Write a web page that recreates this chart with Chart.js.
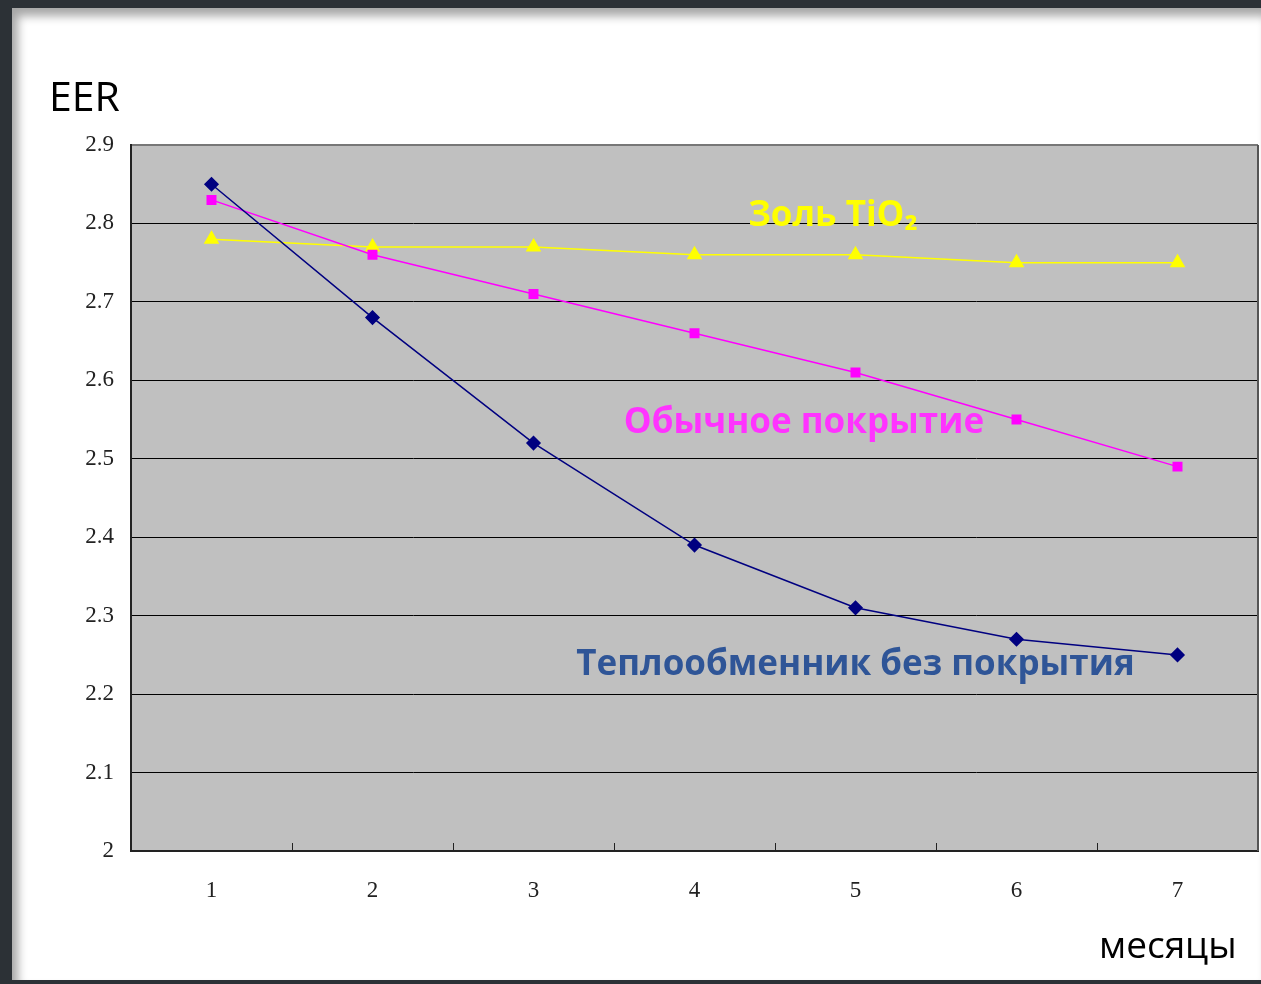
<!DOCTYPE html>
<html>
<head>
<meta charset="utf-8">
<script src="https://cdn.jsdelivr.net/npm/chart.js@4.4.1/dist/chart.umd.min.js"></script>
<style>
  html, body { margin: 0; padding: 0; width: 1261px; height: 984px; overflow: hidden; background: #2c3136; }
  #panel { position: absolute; left: 12px; top: 8px; width: 1249px; height: 972px; background: #ffffff;
           box-shadow: inset 6px 8px 10px rgba(0,0,0,0.35); }
  #wrap { position: absolute; left: 0; top: 0; width: 1261px; height: 984px; }
  .lbl { position: absolute; font-family: "Open Sans", sans-serif; color: #000; }
</style>
</head>
<body>
<div id="panel"></div>
<div id="wrap"><canvas id="c" width="1261" height="984"></canvas></div>
<div class="lbl" style="left:49px; top:67px; font-size:41px;">EER</div>
<div class="lbl" style="left:1099px; top:918px; font-size:37px;">месяцы</div>
<script>
const months = ["1", "2", "3", "4", "5", "6", "7"];
const uncoated = [2.85, 2.68, 2.52, 2.39, 2.31, 2.27, 2.25];
const ordinary = [2.83, 2.76, 2.71, 2.66, 2.61, 2.55, 2.49];
const tio2sol = [2.78, 2.77, 2.77, 2.76, 2.76, 2.75, 2.75];
const seriesNames = ["Теплообменник без покрытия", "Обычное покрытие", "Золь TiO₂"];
const yMin = 2.0, yMax = 2.9, yStep = 0.1;

// label anchors in data units: [category index, value]
const labelAnchors = [
  { text: "Теплообменник без покрытия", x: 4.0, y: 2.237, color: "#2f5597", size: 35 },
  { text: "Обычное покрытие", x: 3.68, y: 2.545, color: "#ff33ff", size: 35 },
  { text: "Золь TiO₂", x: 3.86, y: 2.81, color: "#ffff00", size: 35 }
];

const bgPlugin = {
  id: 'bg',
  beforeDraw(chart) {
    const { ctx, chartArea: a } = chart;
    ctx.save();
    ctx.fillStyle = '#c0c0c0';
    ctx.fillRect(a.left, a.top, a.right - a.left, a.bottom - a.top);
    ctx.restore();
  },
  afterDatasetsDraw(chart) {
    const { ctx, chartArea: a, scales } = chart;
    const xs = scales.x;
    ctx.save();
    ctx.strokeStyle = '#222';
    ctx.lineWidth = 1;
    for (let i = 0; i < months.length - 1; i++) {
      const px = Math.round((xs.getPixelForValue(i) + xs.getPixelForValue(i + 1)) / 2) + 0.5;
      ctx.beginPath(); ctx.moveTo(px, a.bottom); ctx.lineTo(px, a.bottom - 8); ctx.stroke();
    }
    ctx.strokeStyle = '#555';
    ctx.lineWidth = 2;
    ctx.beginPath(); ctx.moveTo(a.right, a.top); ctx.lineTo(a.right, a.bottom); ctx.stroke();
    ctx.textAlign = 'center';
    ctx.textBaseline = 'middle';
    labelAnchors.forEach(l => {
      ctx.font = 'bold ' + l.size + 'px "Open Sans", sans-serif';
      ctx.fillStyle = l.color;
      ctx.fillText(l.text, xs.getPixelForValue(l.x), scales.y.getPixelForValue(l.y));
    });
    ctx.restore();
  }
};

new Chart(document.getElementById('c'), {
  type: 'line',
  data: {
    labels: months,
    datasets: [
      { label: seriesNames[0], data: uncoated, borderColor: '#000080', backgroundColor: '#000080',
        borderWidth: 1.5, pointStyle: 'rectRot', pointRadius: 6.5, pointHoverRadius: 6.5, tension: 0 },
      { label: seriesNames[1], data: ordinary, borderColor: '#ff00ff', backgroundColor: '#ff00ff',
        borderWidth: 1.5, pointStyle: 'rect', pointRadius: 6, pointHoverRadius: 6, tension: 0 },
      { label: seriesNames[2], data: tio2sol, borderColor: '#ffff00', backgroundColor: '#ffff00',
        borderWidth: 1.5, pointStyle: 'triangle', pointRadius: 7.5, pointHoverRadius: 7.5, tension: 0 }
    ]
  },
  options: {
    responsive: false,
    animation: false,
    devicePixelRatio: 1,
    layout: { autoPadding: false, padding: { left: 0, right: 3, top: 145, bottom: 0 } },
    plugins: { legend: { display: false }, tooltip: { enabled: false }, title: { display: false } },
    scales: {
      x: {
        type: 'category',
        offset: true,
        grid: { display: false, drawTicks: false },
        border: { display: true, color: '#222', width: 2 },
        ticks: { color: '#222', padding: 26, font: { family: 'Liberation Serif', size: 23 } },
        afterFit(scale) { scale.height = 133; scale.paddingLeft = 0; scale.paddingRight = 0; }
      },
      y: {
        min: yMin, max: yMax,
        grid: { color: (c) => c.tick && Math.abs(c.tick.value - yMax) < 1e-9 ? '#777' : '#000', lineWidth: (c) => c.tick && Math.abs(c.tick.value - yMax) < 1e-9 ? 2 : 1, drawTicks: false },
        border: { display: true, color: '#222', width: 2 },
        ticks: { stepSize: yStep, color: '#222', padding: 17,
          font: { family: 'Liberation Serif', size: 23 },
          callback: (v) => (Math.round(v * 10) / 10).toString() },
        afterFit(scale) { scale.width = 131; scale.paddingTop = 0; scale.paddingBottom = 0; }
      }
    }
  },
  plugins: [bgPlugin]
});
</script>
</body>
</html>
